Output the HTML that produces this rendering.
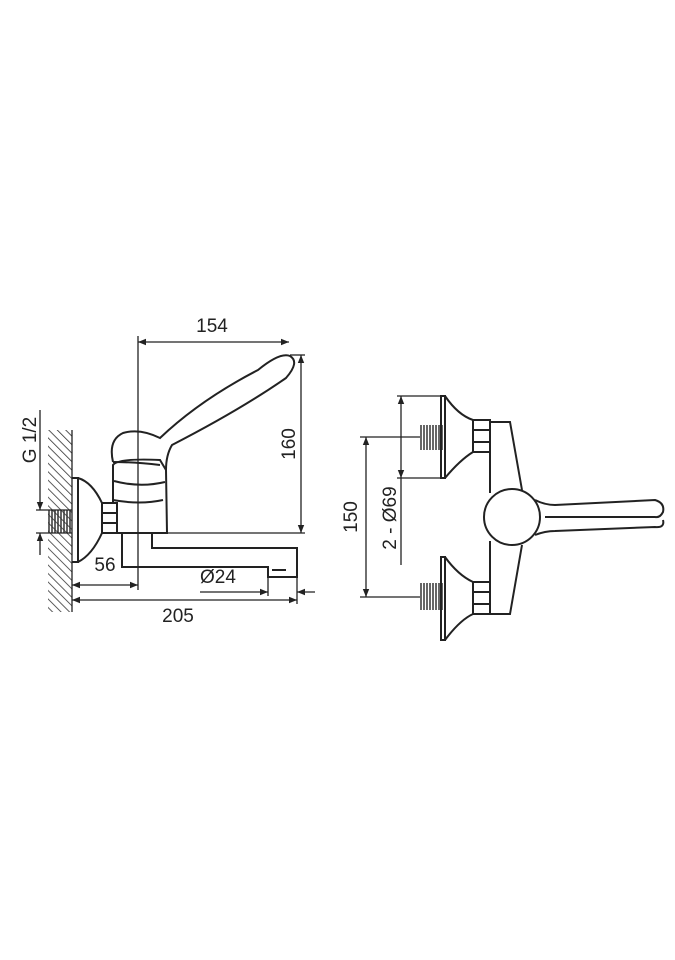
<!DOCTYPE html>
<html><head><meta charset="utf-8"><style>
html,body{margin:0;padding:0;background:#fff;}
svg{display:block;}
text{font-family:"Liberation Sans",sans-serif;font-size:19px;fill:#222;}
</style></head><body>
<svg width="675" height="960" viewBox="0 0 675 960">
<defs>
<marker id="a" viewBox="0 0 10 10" refX="10" refY="5" markerWidth="10" markerHeight="8" orient="auto-start-reverse" markerUnits="userSpaceOnUse"><path d="M0,1 L10,5 L0,9z" fill="#222"/></marker>
<pattern id="h" width="6" height="6" patternUnits="userSpaceOnUse" patternTransform="rotate(-45)"><line x1="0" y1="0" x2="0" y2="6" stroke="#333" stroke-width="1.6"/></pattern>
<pattern id="t" width="3" height="4" patternUnits="userSpaceOnUse"><line x1="1" y1="0" x2="1" y2="4" stroke="#333" stroke-width="1.5"/></pattern>
</defs>
<g stroke="#222" stroke-width="1.3" fill="none">
<!-- LEFT VIEW -->
<rect x="48" y="430" width="24" height="182" fill="url(#h)" stroke="none"/>
<line x1="72" y1="430" x2="72" y2="612"/>
<rect x="48" y="510" width="24" height="23" fill="url(#t)" stroke="none"/>
<!-- flange -->
<g stroke-width="2">
<path d="M72,478 L78,478 L78,562 L72,562"/>
<path d="M78,478 Q92,482 102,503 M78,562 Q92,555 102,533"/>
<rect x="102" y="503" width="15" height="30"/>
<line x1="102" y1="513" x2="117" y2="513"/><line x1="102" y1="523" x2="117" y2="523"/>
<!-- body -->
<path d="M113,503 L113,465 Q118,458 160,460 L166,470 L167,533 L117,533"/>
<path d="M114,481 Q140,488 165,482"/>
<path d="M113,500 Q140,505 163,500"/>
<!-- lever cap + handle -->
<path d="M113,462 Q108,440 123,433 Q140,428 160,438 Q200,400 258,370 Q280,352 290,356 Q300,362 286,378 Q240,410 172,445 Q166,455 166,470"/>
<path d="M113,462 Q135,462 160,465"/>
<!-- spout -->
<path d="M122,533 L122,567 L268,567 L268,577 L297,577 L297,548 L152,548 L152,533"/>
<line x1="272" y1="570" x2="286" y2="570"/>
</g>
<!-- dims left -->
<line x1="138" y1="336" x2="138" y2="590"/>
<line x1="138" y1="342" x2="289" y2="342" marker-start="url(#a)" marker-end="url(#a)"/>
<line x1="290" y1="355" x2="305" y2="355"/>
<line x1="167" y1="533" x2="305" y2="533"/>
<line x1="301" y1="355" x2="301" y2="533" marker-start="url(#a)" marker-end="url(#a)"/>
<line x1="36" y1="510" x2="72" y2="510"/>
<line x1="36" y1="533" x2="72" y2="533"/>
<line x1="40" y1="410" x2="40" y2="510" marker-end="url(#a)"/>
<line x1="40" y1="555" x2="40" y2="533" marker-end="url(#a)"/>
<line x1="72" y1="585" x2="138" y2="585" marker-start="url(#a)" marker-end="url(#a)"/>
<line x1="268" y1="577" x2="268" y2="596"/>
<line x1="297" y1="577" x2="297" y2="604"/>
<line x1="200" y1="592" x2="268" y2="592" marker-end="url(#a)"/>
<line x1="315" y1="592" x2="297" y2="592" marker-end="url(#a)"/>
<line x1="72" y1="600" x2="297" y2="600" marker-start="url(#a)" marker-end="url(#a)"/>
<!-- RIGHT VIEW -->
<rect x="420" y="425" width="23" height="25" fill="url(#t)" stroke="none"/>
<rect x="420" y="583" width="23" height="27" fill="url(#t)" stroke="none"/>
<g stroke-width="2">
<path d="M441,396 L445,396 L445,478 L441,478 Z"/>
<path d="M445,396 Q458,415 473,420 M445,478 Q460,460 473,452"/>
<rect x="473" y="420" width="17" height="32"/>
<line x1="473" y1="430" x2="490" y2="430"/><line x1="473" y1="442" x2="490" y2="442"/>
<path d="M441,557 L445,557 L445,640 L441,640 Z"/>
<path d="M445,557 Q458,575 473,582 M445,640 Q460,620 473,614"/>
<rect x="473" y="582" width="17" height="32"/>
<line x1="473" y1="592" x2="490" y2="592"/><line x1="473" y1="604" x2="490" y2="604"/>
<path d="M490,422 L510,422 L522,490 M490,422 L490,493 M490,541 L490,614 L510,614 L522,545"/>
<circle cx="512" cy="517" r="28"/>
<path d="M535,500 Q545,505 555,505 L655,500 Q665,503 663,512 Q660,518 655,517 L545,517"/>
<path d="M535,535 Q545,531 555,531 L655,527 Q665,528 663,520"/>
</g>
<line x1="397" y1="396" x2="441" y2="396"/>
<line x1="397" y1="478" x2="441" y2="478"/>
<line x1="401" y1="396" x2="401" y2="478" marker-start="url(#a)" marker-end="url(#a)"/>
<line x1="401" y1="478" x2="401" y2="565"/>
<line x1="360" y1="437" x2="420" y2="437"/>
<line x1="360" y1="597" x2="420" y2="597"/>
<line x1="366" y1="437" x2="366" y2="597" marker-start="url(#a)" marker-end="url(#a)"/>
</g>
<text x="212" y="332" text-anchor="middle">154</text>
<text transform="translate(295,444) rotate(-90)" text-anchor="middle">160</text>
<text transform="translate(36,440) rotate(-90)" text-anchor="middle">G 1/2</text>
<text x="105" y="571" text-anchor="middle">56</text>
<text x="218" y="583" text-anchor="middle">Ø24</text>
<text x="178" y="622" text-anchor="middle">205</text>
<text transform="translate(357,517) rotate(-90)" text-anchor="middle">150</text>
<text transform="translate(396,518) rotate(-90)" text-anchor="middle">2 - Ø69</text>
</svg>
</body></html>
